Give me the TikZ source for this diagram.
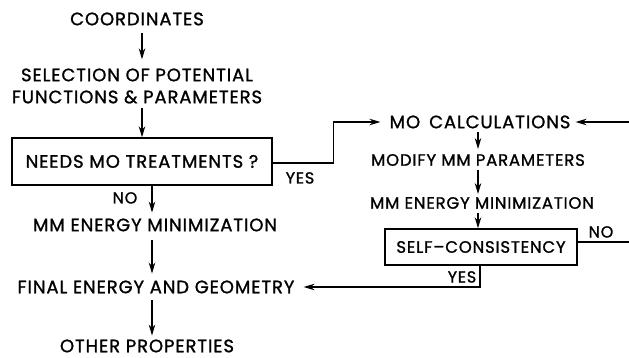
\documentclass[tikz,border=0pt]{standalone}
\usepackage{fontspec}
\newfontfamily\lf{Poppins}[FakeBold=1.2, LetterSpace=5]
\usetikzlibrary{arrows.meta,calc}
\tikzset{
  lbl/.style={inner sep=0pt, font=\lf\fontsize{18}{22}\selectfont, text height=12.5pt, text depth=0pt},
  rlbl/.style={inner sep=0pt, font=\lf\fontsize{16.5}{22}\selectfont, text height=11.5pt, text depth=0pt},
  mlbl/.style={inner sep=0pt, font=\lf\fontsize{18}{22}\selectfont, align=center},
  boxn/.style={draw, line width=1.4pt, inner sep=0pt, text height=12pt, text depth=0pt},
  arr/.style={line width=1.3pt, -{Stealth[length=11pt,width=6.5pt]}},
  ln/.style={line width=1.3pt},
  tag/.style={inner sep=0pt, font=\lf\fontsize{16}{18}\selectfont, text height=11pt, text depth=0pt}
}
\begin{document}
\begin{tikzpicture}[x=1pt,y=-1pt]
\useasboundingbox (0,0) rectangle (629,358);
% columns
\coordinate (ca) at (142,0);
\coordinate (cb) at (152,0);
\coordinate (cc) at (478,0);
\coordinate (cd) at (480,0);
\coordinate (re1) at (629,122);
\coordinate (re2) at (629,242);
% nodes
\node[lbl] (coord) at (137,19) {COORDINATES};
\node[mlbl] (sel) at (137,86) {SELECTION OF POTENTIAL\\FUNCTIONS \& PARAMETERS};
\node[boxn, lbl, minimum width=260pt, minimum height=47pt] (needs) at (142,161.5) {NEEDS MO TREATMENTS ?};
\node[lbl] (mml) at (155,225) {MM ENERGY MINIMIZATION};
\node[lbl] (final) at (156,287) {FINAL ENERGY AND GEOMETRY};
\node[lbl] (other) at (147,346) {OTHER PROPERTIES};
\node[lbl] (mo) at (480,122) {MO\hspace{9pt}CALCULATIONS};
\node[rlbl] (modify) at (478,160) {MODIFY MM PARAMETERS};
\node[rlbl] (mmr) at (482,203) {MM ENERGY MINIMIZATION};
\node[boxn, rlbl, minimum width=192pt, minimum height=36pt] (self) at (481,247) {SELF–CONSISTENCY};
% labels
\node[tag] (no1) at (125,198) {NO};
\node[tag] (yes1) at (300,178) {YES};
\node[tag] (no2) at (601,232) {NO};
\node[tag] (yes2) at (462,277) {YES};
% connectors
\draw[arr, shorten <=8pt, shorten >=9pt] (coord.south -| ca) -- (sel.north -| ca);
\draw[arr, shorten <=4pt] (sel.south -| ca) -- (needs.north -| ca);
\draw[arr, shorten >=6pt] (needs.south -| cb) -- (mml.north -| cb);
\draw[arr, shorten <=9pt, shorten >=7pt] (mml.south -| cb) -- (final.north -| cb);
\draw[arr, shorten <=7pt, shorten >=4pt] (final.south -| cb) -- (other.north -| cb);
\draw[arr, shorten >=9pt] ($(needs.east)+(0,1.5)$) -- ++(61,0) |- (mo.west);
\draw[arr, shorten >=5pt] (re1) -- (mo.east);
\draw[arr, shorten <=4pt, shorten >=5pt] (mo.south -| cc) -- (modify.north -| cc);
\draw[arr, shorten <=4pt, shorten >=3pt] (modify.south -| cc) -- (mmr.north -| cc);
\draw[arr, shorten <=4pt] (mmr.south -| cc) -- (self.north -| cc);
\draw[ln] ($(self.east)+(0,-5)$) -- (re2);
\draw[arr, shorten >=9pt] (self.south -| cd) |- (final.east);
\end{tikzpicture}
\end{document}
